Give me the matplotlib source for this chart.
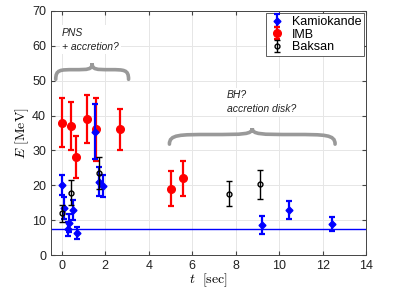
import numpy as np
import matplotlib
matplotlib.use("Agg")
import matplotlib.pyplot as plt
from matplotlib.path import Path
from matplotlib.patches import PathPatch

plt.rcParams['font.family'] = ['Liberation Sans', 'DejaVu Sans']
plt.rcParams['mathtext.fontset'] = 'cm'

# Kamiokande
kam_t = [0.0, 0.107, 0.303, 0.324, 0.507, 0.686, 1.541, 1.728, 1.915, 9.219, 10.433, 12.439]
kam_E = [20.0, 13.5, 7.5, 9.2, 12.8, 6.3, 35.4, 21.0, 19.8, 8.6, 13.0, 8.9]
kam_err = [2.9, 3.2, 2.0, 2.7, 2.9, 1.7, 8.0, 4.2, 3.2, 2.7, 2.6, 1.9]
# IMB
imb_t = [0.0, 0.412, 0.650, 1.141, 1.562, 2.684, 5.010, 5.582]
imb_E = [38, 37, 28, 39, 36, 36, 19, 22]
imb_err = [7, 7, 6, 7, 9, 6, 5, 5]
# Baksan
bak_t = [0.0, 0.435, 1.710, 7.687, 9.099]
bak_E = [12.0, 17.9, 23.5, 17.6, 20.3]
bak_err = [2.4, 3.6, 4.7, 3.5, 4.1]

threshold = 7.5

# braces: (x0, x1, y_base, height)
brace1 = (-0.28, 3.07, 50.4, 4.6)
brace2 = (4.95, 12.57, 31.8, 4.6)
label1 = "PNS\n+ accretion?"
label2 = "BH?\naccretion disk?"

fig = plt.figure(figsize=(3.95, 2.96), dpi=100)
ax = fig.add_axes([0.129, 0.1385, 0.798, 0.8245])

ax.grid(True, color='#e6e6e6', linewidth=0.7, zorder=0)
ax.set_axisbelow(True)

def brace(ax, x0, x1, yb, h, color='#999999', lw=2.6):
    xm = (x0 + x1) / 2
    hw = (x1 - x0) / 2
    y1 = yb + h * 0.6
    verts = [
        (x0, yb), (x0, y1), (x0 + hw * 0.12, y1), (x0 + hw * 0.5, y1),
        (xm - hw * 0.1, y1), (xm, y1), (xm, yb + h),
        (xm, y1), (xm + hw * 0.1, y1), (xm + hw * 0.5, y1),
        (x1 - hw * 0.12, y1), (x1, y1), (x1, yb),
    ]
    codes = [Path.MOVETO] + [Path.CURVE4] * 12
    p = PathPatch(Path(verts, codes), facecolor='none', edgecolor=color, lw=lw, zorder=3,
                  capstyle='round')
    ax.add_patch(p)

brace(ax, *brace1)
brace(ax, *brace2)

ax.text(0.0, 61.8, label1, fontsize=7.5, style='italic', color='#222222', va='center', ha='left',
        linespacing=1.5, bbox=dict(facecolor='white', edgecolor='none', pad=1.5), zorder=4)
ax.text(7.6, 44.0, label2, fontsize=7.5, style='italic', color='#222222', va='center', ha='left',
        linespacing=1.5, bbox=dict(facecolor='white', edgecolor='none', pad=1.5), zorder=4)

ax.axhline(threshold, color='blue', lw=1.0, zorder=2)

ax.errorbar(kam_t, kam_E, yerr=kam_err, fmt='D', color='blue', ms=3.5, lw=1.6, capsize=2,
            capthick=1.6, label='Kamiokande', zorder=5)
ax.errorbar(imb_t, imb_E, yerr=imb_err, fmt='o', color='red', ms=5.5, lw=1.6, capsize=2,
            capthick=1.6, label='IMB', zorder=4)
ax.errorbar(bak_t, bak_E, yerr=bak_err, fmt='o', color='black', mfc='none', ms=3.5, mew=1.0, lw=1.0,
            capsize=2, capthick=1.0, label='Baksan', zorder=6)

ax.set_xlim(-0.5, 14)
ax.set_ylim(0, 70)
ax.set_xticks(np.arange(0, 15, 2))
ax.set_yticks(np.arange(0, 71, 10))
ax.tick_params(direction='in', top=True, right=True, labelsize=9, length=3, color='#444444',
               labelcolor='#222222')
for s in ax.spines.values():
    s.set_color('#444444')
    s.set_linewidth(0.7)

ax.set_xlabel(r'$t\ \ \mathrm{[sec]}$', fontsize=10, labelpad=0)
ax.set_ylabel(r'$E\ \mathrm{[MeV]}$', fontsize=10, labelpad=1)

leg = ax.legend(loc='upper right', fontsize=9, borderaxespad=0.15, handlelength=1.2,
                handletextpad=0.6, borderpad=0.25, labelspacing=0.05, fancybox=False,
                framealpha=1, edgecolor='#444444')
leg.get_frame().set_linewidth(0.6)

fig.savefig('out.png', dpi=100)
